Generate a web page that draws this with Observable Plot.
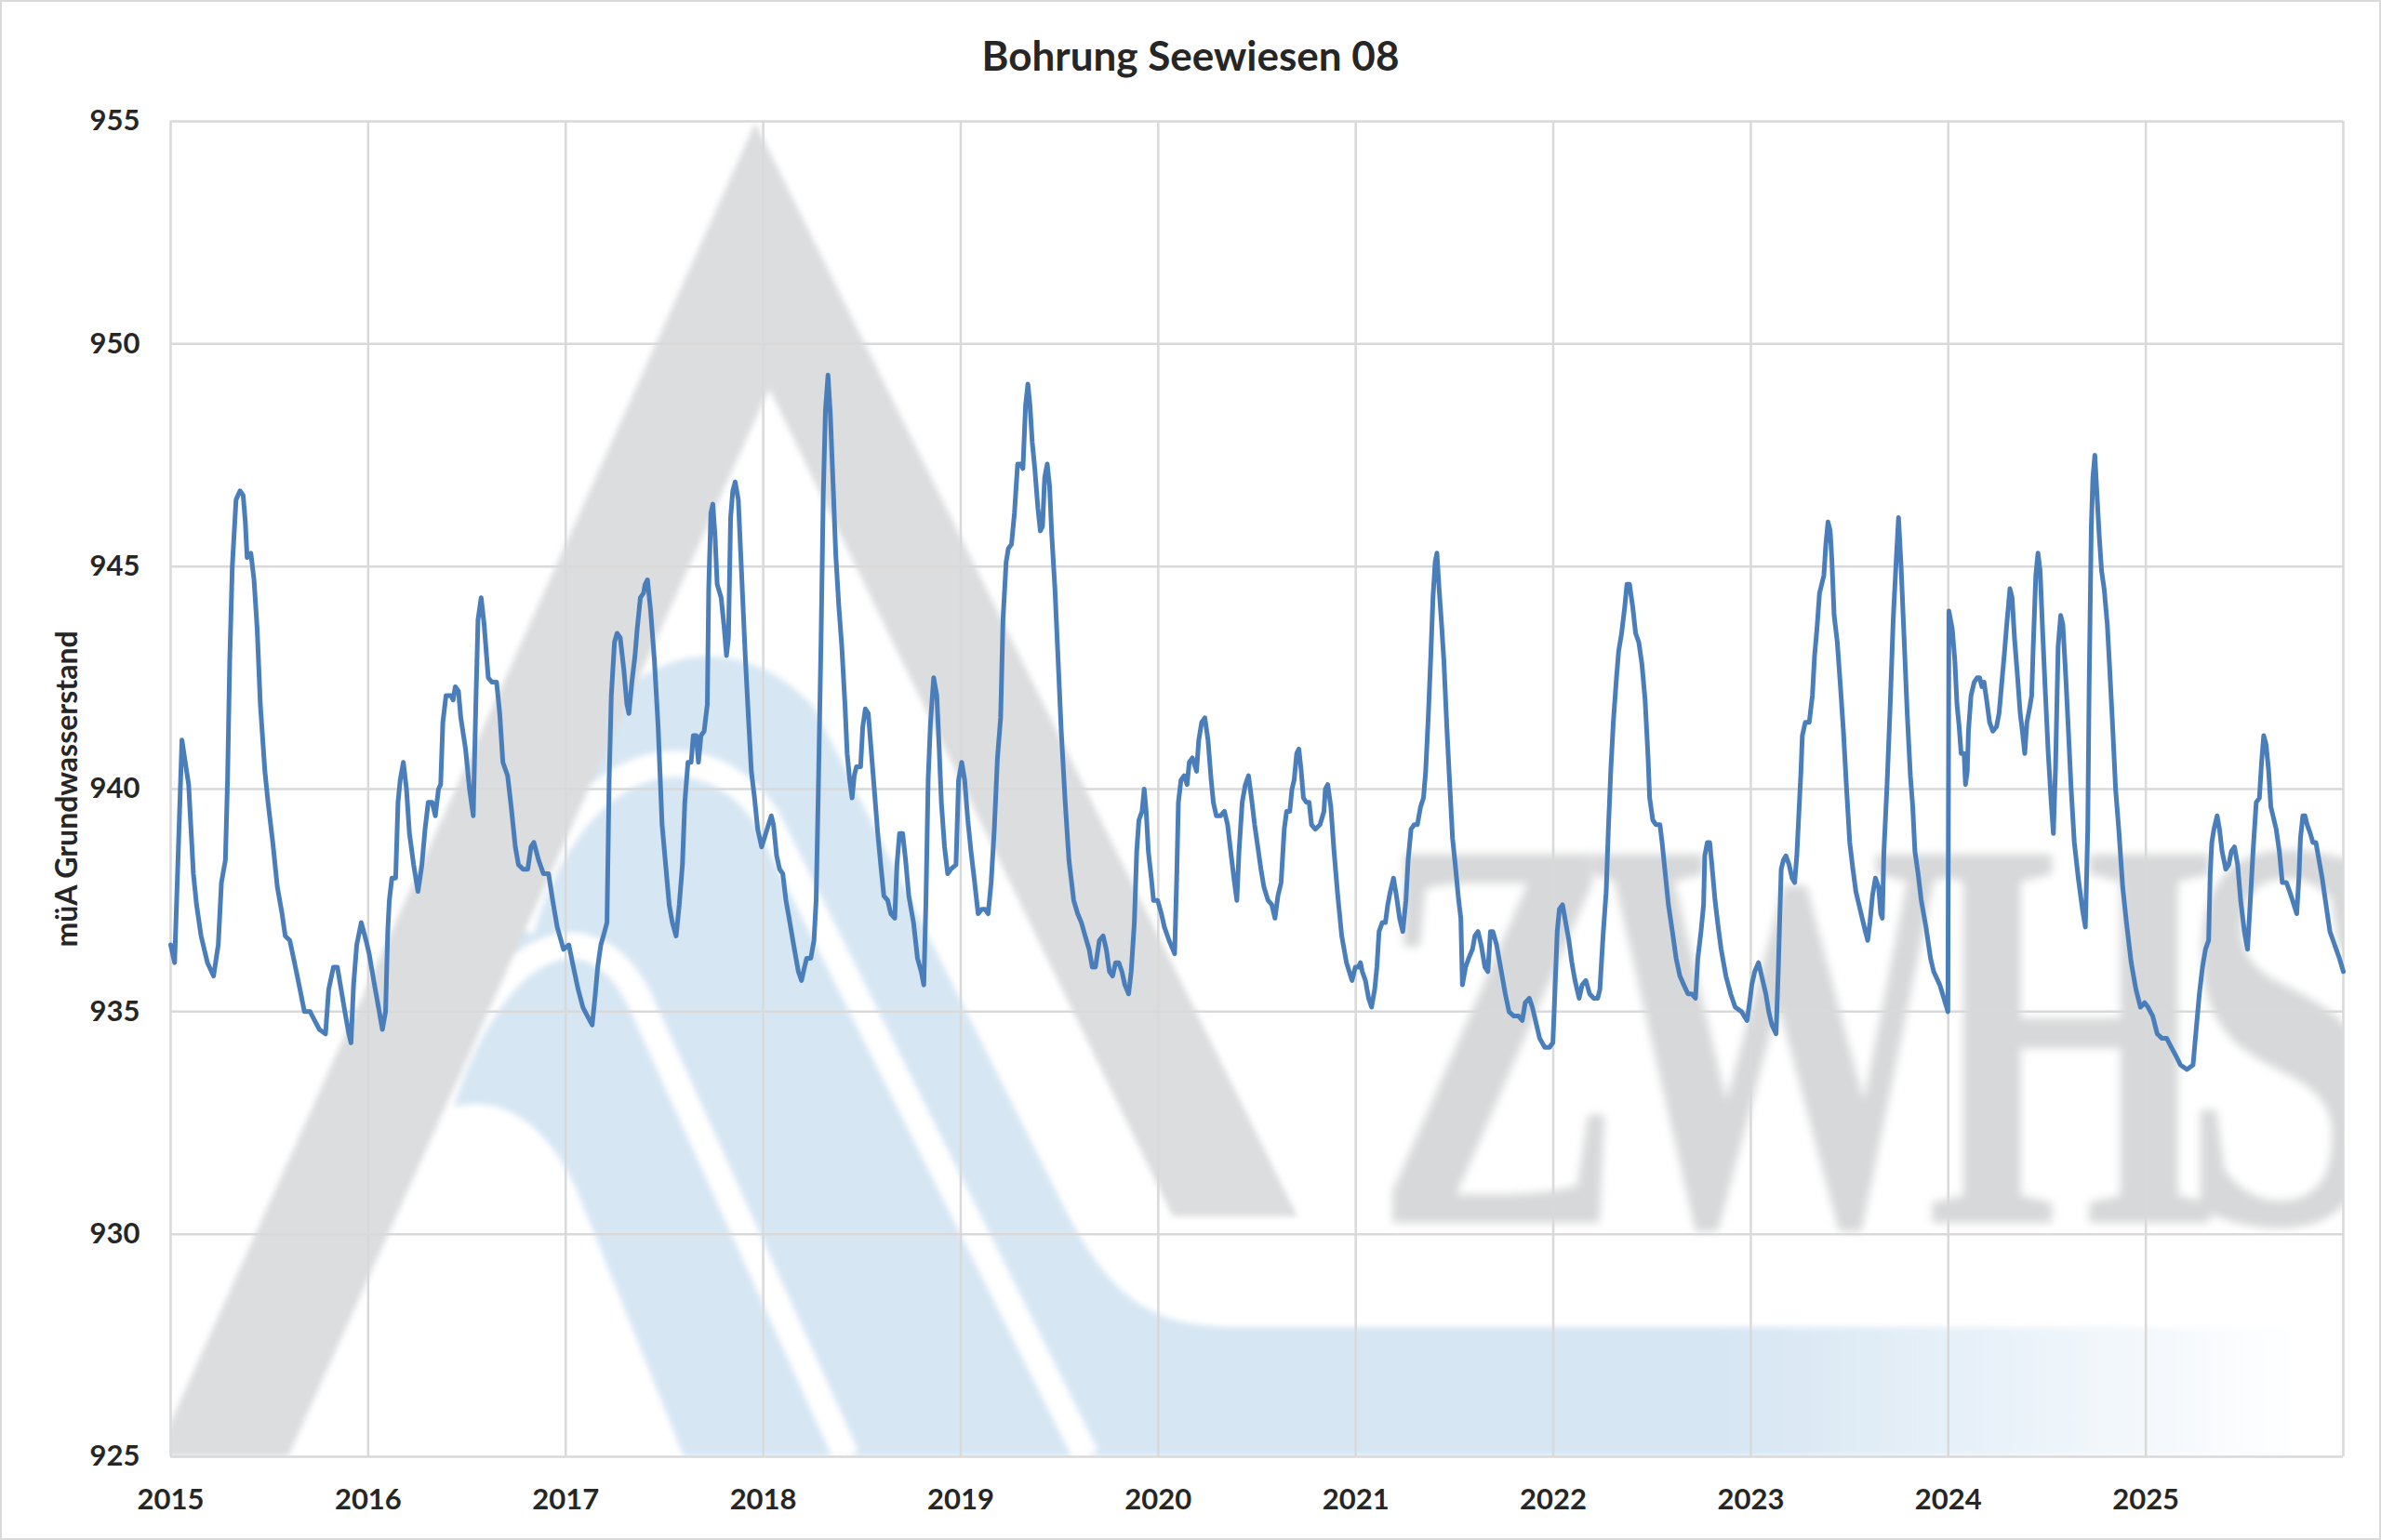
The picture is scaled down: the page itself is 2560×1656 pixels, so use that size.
<!DOCTYPE html>
<html>
<head>
<meta charset="utf-8">
<script src="https://cdn.jsdelivr.net/npm/d3@7"></script>
<script src="https://cdn.jsdelivr.net/npm/@observablehq/plot@0.6"></script>
<style>
html,body{margin:0;padding:0;background:#fff;}
#chart{position:relative;width:2560px;height:1656px;overflow:hidden;font-family:Lato,"Open Sans",sans-serif;}
#wm{position:absolute;left:0;top:0;}
#title{position:relative;height:100px;box-sizing:border-box;padding-top:19px;line-height:80px;font-size:44px;font-weight:700;text-align:center;color:#262626;}
#plot{position:relative;}
#frame{position:absolute;left:0;top:0;width:2560px;height:1656px;box-sizing:border-box;border:2px solid #d9d9d9;pointer-events:none;}
</style>
</head>
<body>
<div id="chart">
  <!-- decorative watermark logo behind the plot area -->
  <svg id="wm" width="2560" height="1656" viewBox="0 0 2560 1656">
    <defs>
      <clipPath id="pa"><rect x="183" y="130" width="2336" height="1436"/></clipPath>
      <linearGradient id="fade" gradientUnits="userSpaceOnUse" x1="1850" y1="0" x2="2480" y2="0">
        <stop offset="0" stop-color="#d6e6f3" stop-opacity="1"/>
        <stop offset="1" stop-color="#d6e6f3" stop-opacity="0"/>
      </linearGradient>
      <filter id="soft" x="-5%" y="-5%" width="110%" height="110%"><feGaussianBlur stdDeviation="3"/></filter>
      <filter id="soft2" x="-10%" y="-10%" width="120%" height="120%"><feGaussianBlur stdDeviation="5"/></filter>
    </defs>
    <g clip-path="url(#pa)">
      <g filter="url(#soft)">
        <path fill="url(#fade)" d="M300 1566 L640 790 C680 700 790 670 875 760 L1140 1290 C1190 1390 1230 1427 1330 1427 L2480 1427 L2480 1566 Z"/>
        <path fill="none" stroke="#fff" stroke-width="28" d="M560 1000 C620 800 760 780 825 880 L1168 1566"/>
        <path fill="none" stroke="#fff" stroke-width="28" d="M470 1200 C530 1000 640 970 690 1080 L910 1566"/>
        <path fill="#fff" d="M300 1566 L465 1200 C500 1180 570 1170 620 1280 L735 1566 Z"/>
        <path fill="#dcdddf" d="M812 132 L1395 1308 L1261 1308 L827 418 L310 1566 L167 1566 Z"/>
      </g>
      <g filter="url(#soft2)">
        <text transform="translate(1478,1315) scale(1,1.51)" x="0" y="0" fill="#d7d8d9" font-family="'Liberation Serif', serif" font-weight="700" font-size="401" letter-spacing="-38">ZWHS</text>
      </g>
    </g>
  </svg>
  <div id="title">Bohrung Seewiesen 08</div>
  <div id="plot"></div>
  <div id="frame"></div>
</div>
<script>
// ---- data: [fraction of year, groundwater level in m ü. A.] ----
const years = [2015, 2016, 2017, 2018, 2019, 2020, 2021, 2022, 2023, 2024, 2025];
const xTicks = [2015, 2016, 2017, 2018, 2019, 2020, 2021, 2022, 2023, 2024, 2025];
const xGrid = [2015, 2016, 2017, 2018, 2019, 2020, 2021, 2022, 2023, 2024, 2025, 2026];
const yTicks = [925, 930, 935, 940, 945, 950, 955];
const titleText = "Bohrung Seewiesen 08";
const yLabel = "müA Grundwasserstand";

const y2015 = [[0.000,936.5],[0.020,936.1],[0.057,941.1],[0.091,940.1],[0.115,938.1],[0.131,937.4],[0.154,936.7],[0.186,936.1],[0.217,935.8],[0.241,936.5],[0.257,937.9],[0.277,938.4],[0.288,940.2],[0.299,942.9],[0.312,945.0],[0.331,946.5],[0.351,946.7],[0.367,946.6],[0.378,946.0],[0.387,945.2],[0.406,945.3],[0.422,944.7],[0.438,943.6],[0.454,941.9],[0.477,940.4],[0.493,939.7],[0.517,938.8],[0.540,937.8],[0.564,937.2],[0.580,936.7],[0.603,936.6],[0.627,936.1],[0.650,935.6],[0.677,935.0],[0.706,935.0],[0.729,934.8],[0.753,934.6],[0.784,934.5],[0.800,935.5],[0.824,936.0],[0.844,936.0],[0.863,935.5],[0.882,935.0],[0.902,934.5],[0.913,934.3],[0.926,935.6],[0.942,936.5],[0.965,937.0],[0.989,936.6]];
const y2016 = [[0.005,936.3],[0.028,935.7],[0.052,935.1],[0.072,934.6],[0.088,935.0],[0.099,936.8],[0.107,937.5],[0.120,938.0],[0.139,938.0],[0.151,939.7],[0.162,940.2],[0.178,940.6],[0.194,940.0],[0.209,939.0],[0.230,938.3],[0.252,937.7],[0.272,938.3],[0.288,939.1],[0.304,939.7],[0.324,939.7],[0.340,939.4],[0.356,940.0],[0.367,940.1],[0.378,941.5],[0.394,942.1],[0.419,942.1],[0.430,942.0],[0.441,942.3],[0.457,942.2],[0.469,941.6],[0.493,940.9],[0.513,940.0],[0.532,939.4],[0.545,941.9],[0.556,943.8],[0.572,944.3],[0.587,943.7],[0.608,942.5],[0.627,942.4],[0.650,942.4],[0.666,941.7],[0.682,940.6],[0.706,940.3],[0.724,939.6],[0.745,938.7],[0.761,938.3],[0.784,938.2],[0.808,938.2],[0.824,938.7],[0.839,938.8],[0.863,938.4],[0.887,938.1],[0.913,938.1],[0.934,937.5],[0.957,936.9],[0.989,936.4]];
const y2017 = [[0.016,936.5],[0.039,936.0],[0.063,935.5],[0.087,935.1],[0.110,934.9],[0.134,934.7],[0.150,935.4],[0.162,936.0],[0.178,936.5],[0.197,936.8],[0.209,937.0],[0.220,940.2],[0.231,942.1],[0.247,943.3],[0.260,943.5],[0.276,943.4],[0.294,942.7],[0.310,941.9],[0.320,941.7],[0.335,942.4],[0.351,943.0],[0.362,943.6],[0.378,944.3],[0.394,944.4],[0.402,944.6],[0.414,944.7],[0.430,944.0],[0.449,942.9],[0.468,941.4],[0.488,939.2],[0.504,938.4],[0.524,937.4],[0.540,937.0],[0.559,936.7],[0.575,937.4],[0.591,938.3],[0.603,939.7],[0.619,940.6],[0.635,940.6],[0.646,941.2],[0.661,941.2],[0.672,940.6],[0.685,941.2],[0.701,941.3],[0.717,941.9],[0.724,944.5],[0.735,946.2],[0.745,946.4],[0.756,945.7],[0.767,944.6],[0.787,944.3],[0.803,943.6],[0.814,943.0],[0.824,943.4],[0.835,946.1],[0.846,946.7],[0.858,946.9],[0.874,946.5],[0.890,944.9],[0.909,943.0],[0.924,941.7],[0.940,940.4],[0.956,939.8],[0.972,939.1],[0.992,938.7]];
const y2018 = [[0.020,939.1],[0.041,939.4],[0.052,939.2],[0.068,938.5],[0.083,938.2],[0.099,938.1],[0.115,937.5],[0.135,937.0],[0.154,936.5],[0.178,935.9],[0.194,935.7],[0.209,936.0],[0.220,936.2],[0.241,936.2],[0.257,936.6],[0.268,937.5],[0.280,940.2],[0.293,943.4],[0.304,946.6],[0.315,948.5],[0.328,949.3],[0.340,948.4],[0.356,946.6],[0.367,945.3],[0.383,944.1],[0.398,943.2],[0.414,941.9],[0.425,940.8],[0.438,940.2],[0.450,939.8],[0.461,940.3],[0.472,940.5],[0.493,940.5],[0.504,941.4],[0.517,941.8],[0.532,941.7],[0.548,940.8],[0.564,939.9],[0.580,939.0],[0.595,938.3],[0.611,937.6],[0.630,937.5],[0.646,937.2],[0.666,937.1],[0.677,938.3],[0.690,939.0],[0.706,939.0],[0.721,938.4],[0.737,937.6],[0.761,937.0],[0.781,936.2],[0.800,935.9],[0.813,935.6],[0.824,937.5],[0.835,940.2],[0.847,941.5],[0.863,942.5],[0.879,942.1],[0.891,940.9],[0.902,939.7],[0.918,938.7],[0.934,938.1],[0.950,938.2],[0.976,938.3],[0.989,940.2]];
const y2019 = [[0.005,940.6],[0.020,940.2],[0.036,939.3],[0.052,938.6],[0.068,938.0],[0.088,937.2],[0.107,937.3],[0.123,937.3],[0.139,937.2],[0.154,937.9],[0.170,939.1],[0.186,940.7],[0.202,941.6],[0.214,943.8],[0.230,945.1],[0.241,945.4],[0.257,945.5],[0.272,946.2],[0.288,947.3],[0.304,947.3],[0.315,947.2],[0.328,948.6],[0.340,949.1],[0.351,948.6],[0.362,947.8],[0.375,947.2],[0.391,946.3],[0.403,945.8],[0.414,945.9],[0.425,947.0],[0.438,947.3],[0.450,946.8],[0.461,945.7],[0.477,944.5],[0.493,942.9],[0.509,941.3],[0.529,939.7],[0.548,938.4],[0.572,937.5],[0.592,937.2],[0.611,937.0],[0.630,936.7],[0.650,936.4],[0.666,936.0],[0.682,936.0],[0.702,936.6],[0.721,936.7],[0.737,936.4],[0.753,935.9],[0.769,935.8],[0.784,936.1],[0.800,936.1],[0.816,935.9],[0.831,935.6],[0.850,935.4],[0.863,935.9],[0.879,937.0],[0.891,938.6],[0.902,939.3],[0.918,939.5],[0.929,940.0],[0.939,939.5],[0.950,938.6],[0.965,938.0],[0.976,937.5],[0.997,937.5]];
const y2020 = [[0.016,937.2],[0.031,936.9],[0.055,936.6],[0.083,936.3],[0.094,938.1],[0.102,939.7],[0.115,940.2],[0.131,940.3],[0.146,940.1],[0.157,940.6],[0.173,940.7],[0.194,940.4],[0.205,941.1],[0.220,941.5],[0.236,941.6],[0.252,941.1],[0.268,940.2],[0.279,939.7],[0.294,939.4],[0.315,939.4],[0.335,939.5],[0.351,939.2],[0.367,938.6],[0.383,938.0],[0.398,937.5],[0.409,938.6],[0.425,939.7],[0.441,940.1],[0.457,940.3],[0.472,939.8],[0.488,939.2],[0.504,938.7],[0.520,938.2],[0.535,937.8],[0.556,937.5],[0.575,937.4],[0.591,937.1],[0.606,937.6],[0.622,937.9],[0.638,939.1],[0.650,939.5],[0.666,939.5],[0.677,940.0],[0.688,940.2],[0.701,940.8],[0.712,940.9],[0.724,940.4],[0.735,939.8],[0.751,939.7],[0.764,939.7],[0.776,939.2],[0.795,939.1],[0.819,939.2],[0.839,939.5],[0.846,940.0],[0.858,940.1],[0.874,939.6],[0.890,938.6],[0.909,937.6],[0.929,936.7],[0.953,936.1],[0.981,935.7],[0.998,936.0]];
const y2021 = [[0.013,936.0],[0.024,936.1],[0.033,935.9],[0.049,935.7],[0.065,935.3],[0.080,935.1],[0.096,935.5],[0.107,936.0],[0.118,936.8],[0.134,937.0],[0.150,937.0],[0.162,937.4],[0.175,937.7],[0.191,938.0],[0.206,937.6],[0.222,937.1],[0.238,936.8],[0.254,937.5],[0.265,938.4],[0.280,939.1],[0.296,939.2],[0.312,939.2],[0.328,939.6],[0.343,939.8],[0.354,940.4],[0.367,941.6],[0.380,943.0],[0.391,944.3],[0.402,945.1],[0.411,945.3],[0.422,944.5],[0.433,943.8],[0.446,942.9],[0.461,941.4],[0.477,940.0],[0.490,938.9],[0.506,938.2],[0.521,937.5],[0.532,937.1],[0.540,935.6],[0.556,936.0],[0.572,936.2],[0.591,936.4],[0.603,936.7],[0.619,936.8],[0.635,936.5],[0.654,936.0],[0.669,935.9],[0.682,936.8],[0.694,936.8],[0.713,936.5],[0.737,935.9],[0.757,935.4],[0.776,935.0],[0.800,934.9],[0.824,934.9],[0.843,934.8],[0.858,935.2],[0.879,935.3],[0.894,935.1],[0.910,934.8],[0.931,934.4],[0.957,934.2],[0.981,934.2],[0.998,934.3]];
const y2022 = [[0.008,935.4],[0.020,936.8],[0.031,937.3],[0.047,937.4],[0.063,937.0],[0.079,936.6],[0.094,936.1],[0.110,935.7],[0.131,935.3],[0.146,935.6],[0.165,935.7],[0.184,935.4],[0.205,935.3],[0.225,935.3],[0.236,935.5],[0.252,936.7],[0.268,937.7],[0.279,939.1],[0.291,940.4],[0.304,941.5],[0.320,942.5],[0.331,943.1],[0.346,943.5],[0.362,944.1],[0.373,944.6],[0.386,944.6],[0.402,944.1],[0.417,943.5],[0.433,943.3],[0.449,942.8],[0.465,942.0],[0.480,940.7],[0.488,939.8],[0.504,939.3],[0.520,939.2],[0.540,939.2],[0.551,938.8],[0.567,938.1],[0.583,937.4],[0.603,936.8],[0.622,936.2],[0.641,935.8],[0.661,935.6],[0.682,935.4],[0.701,935.4],[0.720,935.3],[0.732,936.2],[0.748,936.8],[0.761,937.4],[0.767,938.5],[0.780,938.8],[0.792,938.8],[0.803,938.3],[0.819,937.5],[0.835,936.9],[0.850,936.4],[0.874,935.8],[0.898,935.4],[0.921,935.1],[0.953,935.0],[0.981,934.8],[0.997,935.3]];
const y2023 = [[0.005,935.6],[0.020,935.9],[0.039,936.1],[0.055,935.8],[0.076,935.4],[0.091,935.0],[0.107,934.7],[0.128,934.5],[0.139,935.9],[0.146,937.0],[0.154,938.2],[0.165,938.4],[0.178,938.5],[0.194,938.3],[0.209,938.0],[0.222,937.9],[0.233,938.5],[0.244,939.5],[0.254,940.4],[0.261,941.2],[0.276,941.5],[0.296,941.5],[0.312,942.1],[0.323,943.0],[0.335,943.6],[0.348,944.4],[0.359,944.6],[0.370,944.8],[0.380,945.5],[0.391,946.0],[0.402,945.8],[0.411,945.1],[0.422,943.9],[0.438,943.3],[0.454,942.3],[0.469,941.3],[0.485,940.0],[0.501,938.8],[0.517,938.2],[0.532,937.7],[0.548,937.4],[0.564,937.1],[0.580,936.8],[0.592,936.6],[0.603,937.0],[0.616,937.6],[0.631,938.0],[0.647,937.8],[0.658,937.2],[0.666,937.1],[0.674,938.6],[0.690,940.1],[0.706,941.9],[0.721,943.8],[0.737,945.2],[0.748,946.1],[0.761,945.0],[0.776,943.4],[0.792,941.7],[0.808,940.3],[0.820,939.6],[0.831,938.6],[0.847,938.1],[0.863,937.5],[0.887,936.9],[0.910,936.2],[0.926,935.9],[0.957,935.6],[0.998,935.0]];
const y2024 = [[0.003,944.0],[0.020,943.6],[0.033,942.9],[0.044,941.9],[0.055,941.4],[0.065,940.8],[0.080,940.8],[0.087,940.1],[0.096,940.4],[0.102,941.3],[0.115,942.1],[0.131,942.4],[0.146,942.5],[0.159,942.5],[0.170,942.3],[0.181,942.4],[0.194,942.0],[0.209,941.5],[0.225,941.3],[0.244,941.4],[0.257,941.7],[0.269,942.3],[0.285,943.1],[0.296,943.7],[0.312,944.5],[0.323,944.3],[0.335,943.4],[0.351,942.5],[0.364,941.7],[0.375,941.3],[0.387,940.8],[0.398,941.5],[0.411,941.8],[0.422,942.1],[0.430,943.2],[0.443,944.8],[0.454,945.3],[0.465,944.9],[0.477,943.6],[0.490,942.3],[0.506,940.8],[0.521,939.7],[0.532,939.0],[0.543,940.5],[0.556,943.2],[0.569,943.9],[0.580,943.7],[0.595,942.5],[0.606,941.5],[0.622,940.0],[0.638,938.8],[0.658,938.0],[0.679,937.3],[0.694,936.9],[0.706,939.1],[0.713,942.3],[0.724,945.9],[0.732,947.0],[0.742,947.5],[0.753,946.6],[0.764,945.7],[0.776,944.9],[0.789,944.5],[0.805,943.7],[0.816,942.8],[0.831,941.5],[0.847,940.0],[0.863,939.1],[0.883,937.8],[0.902,937.0],[0.926,936.1],[0.950,935.5],[0.973,935.1],[0.994,935.2]];
const y2025 = [[0.011,935.1],[0.035,934.9],[0.058,934.5],[0.082,934.4],[0.106,934.4],[0.129,934.2],[0.153,934.0],[0.176,933.8],[0.208,933.7],[0.239,933.8],[0.255,934.6],[0.271,935.4],[0.287,936.0],[0.302,936.4],[0.318,936.6],[0.326,938.1],[0.334,938.8],[0.345,939.1],[0.361,939.4],[0.373,939.1],[0.386,938.6],[0.405,938.2],[0.420,938.3],[0.433,938.6],[0.449,938.7],[0.465,938.3],[0.480,937.5],[0.499,936.8],[0.515,936.4],[0.528,937.4],[0.543,938.6],[0.559,939.7],[0.575,939.8],[0.586,940.6],[0.597,941.2],[0.609,941.0],[0.622,940.4],[0.633,939.6],[0.644,939.4],[0.660,939.1],[0.676,938.6],[0.691,937.9],[0.712,937.9],[0.728,937.7],[0.743,937.5],[0.764,937.2],[0.775,938.0],[0.783,938.9],[0.795,939.4],[0.806,939.4],[0.817,939.2],[0.833,939.0],[0.846,938.8],[0.861,938.8],[0.877,938.4],[0.893,938.0],[0.909,937.5],[0.932,936.8],[0.948,936.6],[0.964,936.4],[0.980,936.2],[1.000,935.9]];

const byYear = [y2015, y2016, y2017, y2018, y2019, y2020, y2021, y2022, y2023, y2024, y2025];
const series = byYear.flatMap((arr, i) => arr.map(([f, v]) => ({t: years[i] + f, v})));

document.getElementById("title").textContent = titleText;

const chart = Plot.plot({
  width: 2560,
  height: 1556,
  marginTop: 30,
  marginBottom: 90,
  marginLeft: 183,
  marginRight: 41,
  style: {
    background: "transparent",
    fontFamily: "Lato, 'Open Sans', sans-serif",
    fontSize: "31px",
    fontWeight: "700",
    color: "#262626",
    overflow: "visible"
  },
  x: {domain: [2015, 2026]},
  y: {domain: [925, 955]},
  marks: [
    Plot.gridX(xGrid, {stroke: "#d9d9d9", strokeOpacity: 1, strokeWidth: 2.5}),
    Plot.gridY(yTicks, {stroke: "#d9d9d9", strokeOpacity: 1, strokeWidth: 2.5}),
    Plot.axisX(xTicks, {tickSize: 0, tickPadding: 34, tickFormat: d => String(d), label: null}),
    Plot.axisY(yTicks, {tickSize: 0, tickPadding: 33, tickFormat: d => String(d), label: null}),
    Plot.line(series, {x: "t", y: "v", stroke: "#4a7ebb", strokeWidth: 5, strokeLinejoin: "round", strokeLinecap: "round"}),
    Plot.text([yLabel], {text: d => d, frameAnchor: "left", rotate: -90, dx: -101, textAnchor: "middle", lineAnchor: "bottom", fontSize: 32, fontWeight: "bold", fill: "#262626"})
  ]
});
document.getElementById("plot").appendChild(chart);
</script>
</body>
</html>
